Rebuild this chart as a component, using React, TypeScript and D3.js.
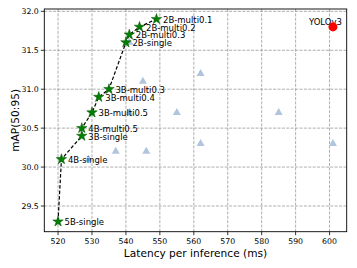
import React from "react";
import * as d3 from "d3";

const starLabels = ["5B-single", "4B-single", "3B-single", "4B-multi0.5", "3B-multi0.5", "3B-multi0.4", "3B-multi0.3", "2B-single", "2B-multi0.3", "2B-multi0.2", "2B-multi0.1"];
const starLatency = [520, 521, 527, 527, 530, 532, 535, 540, 541, 544, 549];
const starMap = [29.3, 30.1, 30.4, 30.5, 30.7, 30.9, 31.0, 31.6, 31.7, 31.8, 31.9];

const triLatency = [541, 545, 562, 541, 555, 585, 529, 537, 546, 562, 601];
const triMap = [31.6, 31.1, 31.2, 30.7, 30.7, 30.7, 30.1, 30.2, 30.2, 30.3, 30.3];

const yoloLabel = "YOLOv3";
const yoloLatency = [601];
const yoloMap = [31.8];

const xTicks = [520, 530, 540, 550, 560, 570, 580, 590, 600];
const yTicks = [29.5, 30.0, 30.5, 31.0, 31.5, 32.0];

const W = 357, H = 268;
const L = 44.3, R = 346.7, T = 9, B = 231.7;
const FONT = "DejaVu Sans, sans-serif";

export default function App() {
  const x = d3.scaleLinear().domain([515.95, 605.05]).range([L, R]);
  const y = d3.scaleLinear().domain([29.17, 32.03]).range([B, T]);
  const star = d3.symbol().type(d3.symbolStar).size(34)() as string;
  const tri = d3.symbol().type(d3.symbolTriangle).size(28)() as string;
  const line = d3.line<number>().x((_, i) => x(starLatency[i])).y((d) => y(d))(starMap) as string;

  return (
    <svg width={W} height={H} style={{ position: "absolute", left: 0, top: 0, background: "#fff" }} fontFamily={FONT}>
      <rect x={0} y={0} width={W} height={H} fill="#fff" />
      {xTicks.map((t) => (
        <line key={"gx" + t} x1={x(t)} x2={x(t)} y1={T} y2={B} stroke="#999" strokeWidth={0.8} strokeDasharray="3,1.4" />
      ))}
      {yTicks.map((t) => (
        <line key={"gy" + t} x1={L} x2={R} y1={y(t)} y2={y(t)} stroke="#999" strokeWidth={0.8} strokeDasharray="3,1.4" />
      ))}
      {triLatency.map((v, i) => (
        <path key={"t" + i} d={tri} transform={`translate(${x(v)},${y(triMap[i])})`} fill="#b0c4de" />
      ))}
      <path d={line} fill="none" stroke="#000" strokeWidth={1.2} strokeDasharray="3.5,2" />
      {starLatency.map((v, i) => (
        <path key={"s" + i} d={star} transform={`translate(${x(v)},${y(starMap[i])})`} fill="#008000" stroke="#005000" strokeWidth={0.5} />
      ))}
      {starLatency.map((v, i) => (
        <text key={"l" + i} x={x(v) + 6.5} y={y(starMap[i]) + 3.8} fontSize={8.5} fill="#000">
          {starLabels[i]}
        </text>
      ))}
      <text x={x(yoloLatency[0]) - 24} y={y(yoloMap[0]) - 1.5} fontSize={8.5} fill="#000">{yoloLabel}</text>
      <circle cx={x(yoloLatency[0])} cy={y(yoloMap[0])} r={4.5} fill="#ff0000" />
      <rect x={L} y={T} width={R - L} height={B - T} fill="none" stroke="#000" strokeWidth={0.9} />
      {xTicks.map((t) => (
        <g key={"xt" + t}>
          <line x1={x(t)} x2={x(t)} y1={B} y2={B + 3.5} stroke="#000" strokeWidth={0.8} />
          <text x={x(t)} y={B + 11.8} fontSize={7.8} textAnchor="middle" fill="#000">{t}</text>
        </g>
      ))}
      {yTicks.map((t) => (
        <g key={"yt" + t}>
          <line x1={L - 3.5} x2={L} y1={y(t)} y2={y(t)} stroke="#000" strokeWidth={0.8} />
          <text x={L - 5.5} y={y(t) + 2.8} fontSize={7.8} textAnchor="end" fill="#000">{t.toFixed(1)}</text>
        </g>
      ))}
      <text x={(L + R) / 2} y={257} fontSize={10.6} textAnchor="middle" fill="#000">Latency per inference (ms)</text>
      <text transform={`translate(18.5,${(T + B) / 2}) rotate(-90)`} fontSize={10.6} textAnchor="middle" fill="#000">mAP(50:95)</text>
    </svg>
  );
}
